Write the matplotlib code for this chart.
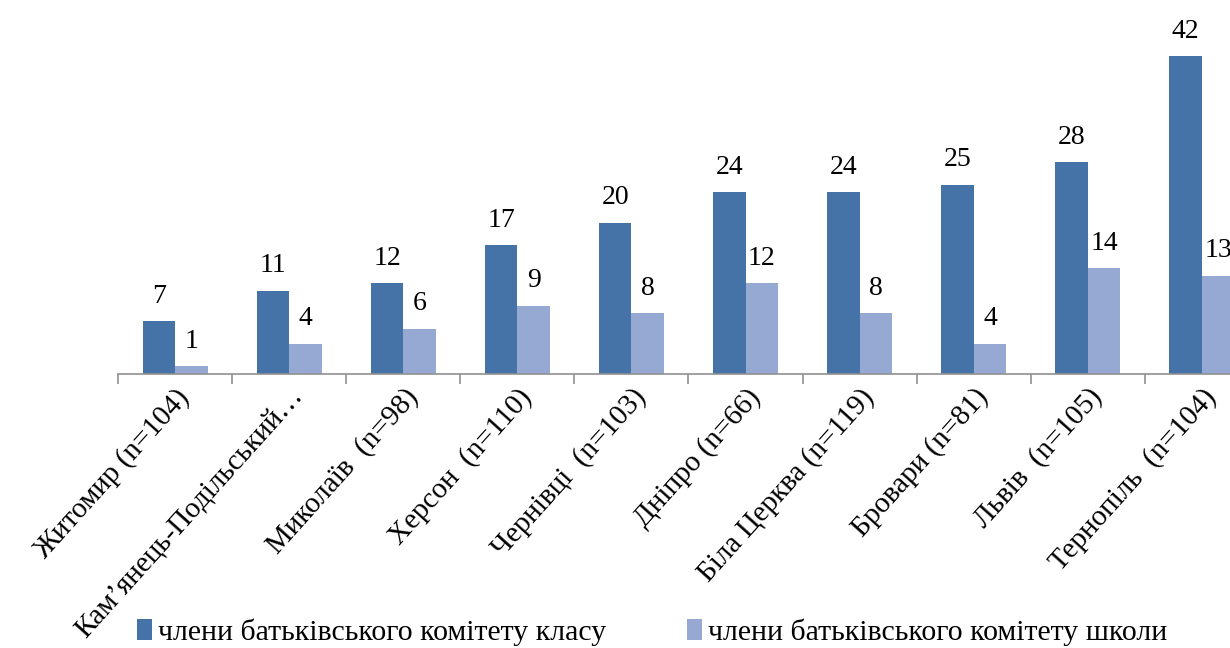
import numpy as np
import matplotlib.pyplot as plt
from matplotlib.ticker import FixedLocator

plt.rcParams['font.family'] = ['Liberation Serif', 'DejaVu Serif']

cities = ['Житомир (n=104)', 'Кам\u2019янець-Подільський…', 'Миколаїв  (n=98)',
          'Херсон  (n=110)', 'Чернівці  (n=103)', 'Дніпро (n=66)',
          'Біла Церква (n=119)', 'Бровари (n=81)', 'Львів  (n=105)',
          'Тернопіль  (n=104)']
klas = [7, 11, 12, 17, 20, 24, 24, 25, 28, 42]
shkola = [1, 4, 6, 9, 8, 12, 8, 4, 14, 13]
series_names = ['члени батьківського комітету класу',
                'члени батьківського комітету школи']

C_DARK = '#4572A7'
C_LIGHT = '#95A9D2'

fig = plt.figure(figsize=(12.3, 6.48), dpi=100)
# axis runs off the right edge like the original crop
ax = fig.add_axes([118/1230, 1-374/648, 1141/1230, 374/648])

x = np.arange(len(cities))
w = 0.285
b1 = ax.bar(x - w/2, klas, w, color=C_DARK, label=series_names[0])
b2 = ax.bar(x + w/2, shkola, w, color=C_LIGHT, label=series_names[1])

for bars in (b1, b2):
    for r in bars:
        ax.annotate(str(int(r.get_height())), (r.get_x() + r.get_width()/2, r.get_height()),
                    xytext=(0, 9), textcoords='offset points', ha='center', va='bottom',
                    fontsize=20)

ax.set_xlim(-0.5, len(cities) - 0.5)
ax.set_ylim(0, 374/7.57)
for s in ['top', 'right', 'left']:
    ax.spines[s].set_visible(False)
ax.spines['bottom'].set_color('#909090')
ax.spines['bottom'].set_linewidth(1.2)
ax.set_yticks([])
ax.set_xticks(x)
ax.set_xticklabels(cities, rotation=48, ha='right', rotation_mode='anchor', fontsize=21)
ax.tick_params(axis='x', which='major', length=0, pad=7)
ax.xaxis.set_minor_locator(FixedLocator(np.arange(-0.5, len(cities), 1)))
ax.tick_params(axis='x', which='minor', length=7, color='#909090', width=1.2)

fig.legend(handles=[b1, b2], loc='center', bbox_to_anchor=(0.53, 1-632/648), ncol=2,
           frameon=False, fontsize=21.5, handlelength=0.5, handleheight=0.7,
           handletextpad=0.2, columnspacing=2.7)

fig.savefig('out.png', dpi=100)
